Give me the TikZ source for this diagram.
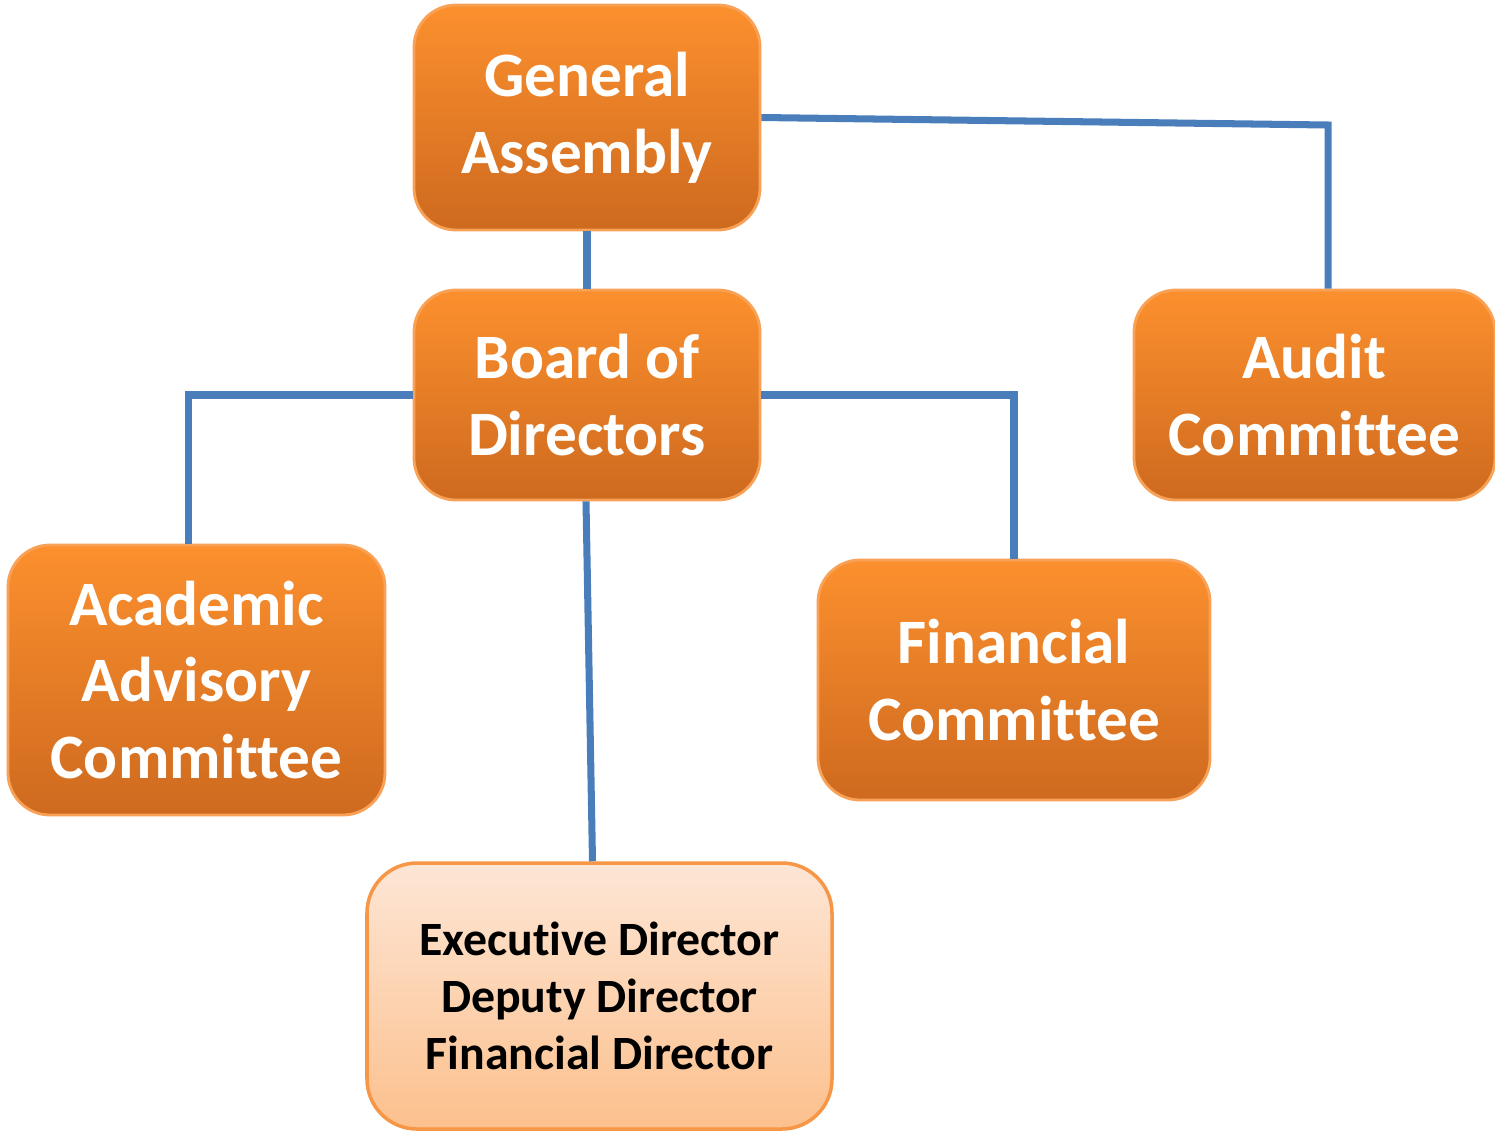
\documentclass[tikz,border=0pt]{standalone}
\usepackage{fontspec}
\setmainfont[Ligatures=NoCommon]{Carlito}
\usetikzlibrary{positioning, calc}

\definecolor{boxtop}{HTML}{FC902E}
\definecolor{boxbot}{HTML}{CE6A1F}
\definecolor{boxrim}{HTML}{F9A257}
\definecolor{paletop}{HTML}{FDE6D5}
\definecolor{palebot}{HTML}{FCC08D}
\definecolor{palerim}{HTML}{F79646}
\definecolor{linkblue}{HTML}{4A7EBB}

\tikzset{
    unit/.style={rounded corners=0.42cm, top color=boxtop, bottom color=boxbot,
        draw=boxrim, line width=0.8pt, text=white, align=center,
        font=\fontsize{18}{21.8}\selectfont\bfseries, inner sep=0pt},
    staff/.style={rounded corners=0.5cm, top color=paletop, bottom color=palebot,
        draw=palerim, line width=1pt, text=black, align=center,
        font=\fontsize{13.6}{16.2}\selectfont\bfseries, inner sep=0pt},
    link/.style={draw=linkblue, line width=2pt}
}

\begin{document}
\begin{tikzpicture}
    \useasboundingbox (0, 0) rectangle (14.95, -11.31);
    % governing bodies
    \node[unit, minimum width=3.46cm, minimum height=2.25cm] (ga) at (5.87, -1.175) {General\\Assembly};
    \node[unit, minimum width=3.46cm, minimum height=2.10cm] (bod) at (5.87, -3.95) {Board of\\Directors};
    \node[unit, minimum width=3.61cm, minimum height=2.10cm] (aud) at (13.145, -3.95) {Audit\\Committee};
    % committees under the board
    \node[unit, minimum width=3.77cm, minimum height=2.70cm] (aac) at (1.965, -6.80) {Academic\\Advisory\\Committee};
    \node[unit, minimum width=3.92cm, minimum height=2.40cm] (fc) at (10.14, -6.80) {Financial\\Committee};
    \node[staff, minimum width=4.65cm, minimum height=2.66cm] (exec) at (5.995, -9.96) {Executive Director\\Deputy Director\\Financial Director};
    % connectors
    \coordinate (audcorner) at (13.28, -1.25);
    \draw[link] (ga.east) -- (audcorner) -- (audcorner |- aud.north);
    \draw[link] (ga.south) -- (bod.north);
    \draw[link] (bod.west) -| ([xshift=-0.08cm]aac.north);
    \draw[link] (bod.east) -| (fc.north);
    \draw[link] ([xshift=-0.01cm]bod.south) -- ([xshift=-0.07cm]exec.north);
\end{tikzpicture}
\end{document}
